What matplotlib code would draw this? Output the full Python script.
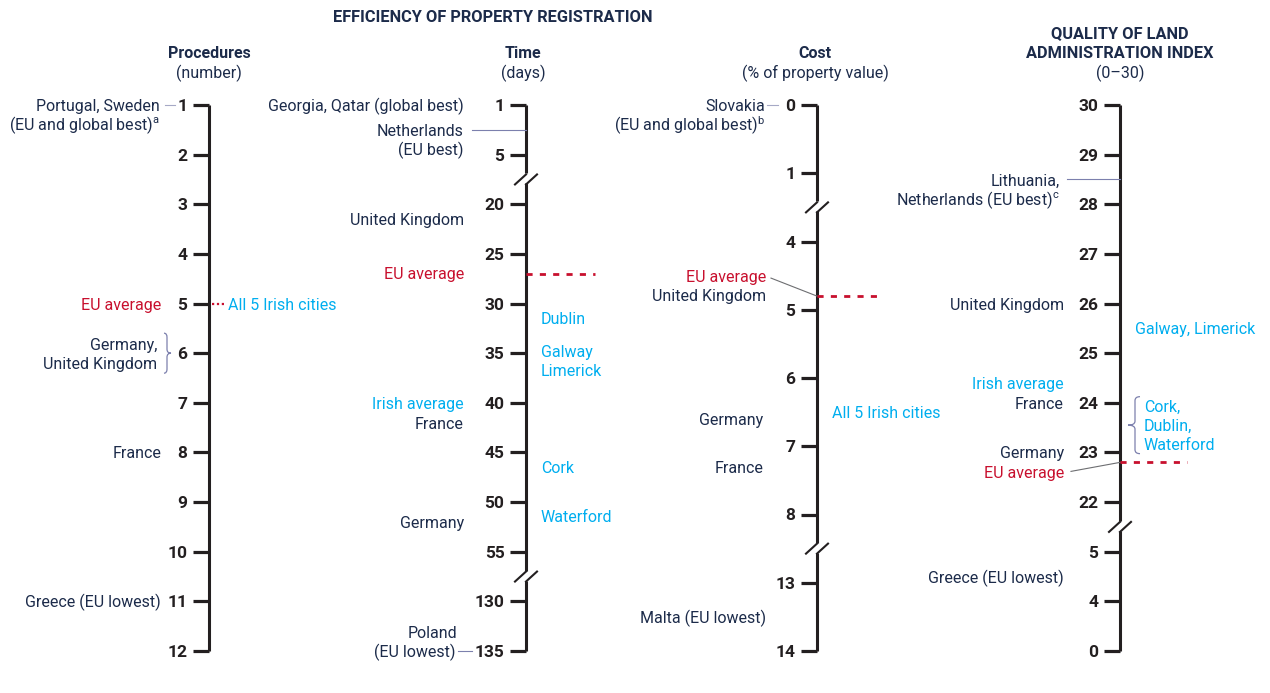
import numpy as np
import matplotlib
matplotlib.use('Agg')
import matplotlib.pyplot as plt
import matplotlib.transforms as mtransforms
from matplotlib.path import Path
from matplotlib.patches import PathPatch

plt.rcParams['font.family'] = ['Roboto', 'DejaVu Sans']
plt.rcParams['mathtext.fontset'] = 'custom'
plt.rcParams['mathtext.rm'] = 'Roboto'

NAVY = '#1c2b4a'
INK = '#231f20'
RED = '#c8102e'
BLUE = '#00aeef'
LEAD = '#7c80ad'
LEAD_LIGHT = '#a6a9c6'
GREY = '#6d6e71'

W, H = 1270, 693
TOP, BOT = 105, 651
FS = 11.5

# tick values of each scale, listed top to bottom
proc_ticks = [1, 2, 3, 4, 5, 6, 7, 8, 9, 10, 11, 12]
time_ticks = [1, 5, 20, 25, 30, 35, 40, 45, 50, 55, 130, 135]
cost_ticks = [0, 1, 4, 5, 6, 7, 8, 13, 14]
qual_ticks = [30, 29, 28, 27, 26, 25, 24, 23, 22, 5, 4, 0]

# scale breaks (the cut sits after this tick index)
time_breaks = [1, 9]
cost_breaks = [1, 6]
qual_breaks = [8]

# procedures (number)
proc_countries = ['Portugal, Sweden', 'Germany, United Kingdom', 'France', 'Greece (EU lowest)']
proc_country_vals = [1, 6, 8, 11]
proc_eu_avg = 5
proc_irish = 5

# time (days)
time_countries = ['Georgia, Qatar (global best)', 'Netherlands', 'United Kingdom',
                  'France', 'Germany', 'Poland']
time_country_vals = [1, 3, 21.5, 42, 52, 135]
time_cities = ['Dublin', 'Galway\nLimerick', 'Cork', 'Waterford']
time_city_vals = [31.5, 35.7, 46.5, 51.4]
time_eu_avg = 27
time_irish_avg = 40

# cost (% of property value)
cost_countries = ['Slovakia', 'United Kingdom', 'Germany', 'France', 'Malta (EU lowest)']
cost_country_vals = [0, 4.8, 6.6, 7.3, 13.5]
cost_eu_avg = 4.8
cost_irish = 6.5

# quality of land administration index (0-30)
qual_countries = ['Lithuania,', 'United Kingdom', 'France', 'Germany', 'Greece (EU lowest)']
qual_country_vals = [28.5, 26, 24, 23, 4.5]
qual_cities = ['Galway, Limerick', 'Cork,\nDublin,\nWaterford']
qual_city_vals = [25.5, 23.55]
qual_eu_avg = 22.8
qual_irish_avg = 24.4

fig = plt.figure(figsize=(W / 100, H / 100), dpi=100)


def make_axis(x_line, ticks, breaks):
    ax = fig.add_axes([0, (H - BOT) / H, 1, (BOT - TOP) / H])
    vals = np.array(sorted(ticks), float)
    pos = np.arange(len(vals), dtype=float)
    ax.set_yscale('function', functions=(lambda v: np.interp(v, vals, pos),
                                         lambda p: np.interp(p, pos, vals)))
    ax.set_ylim(ticks[-1], ticks[0])
    ax.set_xlim(-x_line, W - x_line)
    ax.patch.set_visible(False)
    for s in ax.spines.values():
        s.set_visible(False)
    ax.spines['left'].set_position(('data', 0))
    ax.xaxis.set_visible(False)
    ax.set_yticks(ticks)
    ax.set_yticklabels([str(t) for t in ticks])
    ax.yaxis.set_minor_locator(matplotlib.ticker.NullLocator())
    ax.tick_params(axis='y', which='major', direction='out', length=11.5, width=2.3,
                   pad=4, labelsize=12.5, colors=INK)
    for lab in ax.get_yticklabels():
        lab.set_fontweight('bold')

    n = len(ticks)
    slot_px = (BOT - TOP) / (n - 1)

    def val_at(s):
        return np.interp(s, np.arange(n), ticks)

    # broken axis line
    stops = [0.0]
    for b in breaks:
        c = b + 0.5
        stops += [c - 6 / slot_px, c + 4 / slot_px]
    stops.append(n - 1.0)
    for a, b in zip(stops[::2], stops[1::2]):
        ax.plot([0, 0], [val_at(a), val_at(b)], color=INK, lw=2.2,
                solid_capstyle='butt', clip_on=False)
    for b in breaks:
        tr = anchor(ax, 0, val_at(b + 0.5))
        ax.plot([-11, 0], [5, -5], color=INK, lw=1.5, transform=tr, clip_on=False)
        ax.plot([0, 11], [5, -5], color=INK, lw=1.5, transform=tr, clip_on=False)
    return ax


def anchor(ax, x, v):
    # pixel offsets (y downwards) around a data point
    return mtransforms.Affine2D().scale(1, -1) + mtransforms.ScaledTranslation(x, v, ax.transData)


def say(ax, x, v, s, color=NAVY, ha='right', dy=0, size=FS):
    ax.text(0, dy + 1.5, s, transform=anchor(ax, x, v), ha=ha, va='center',
            color=color, fontsize=size, linespacing=1.1)


def leader(ax, v, xs, ys, color=LEAD):
    ax.plot(xs, ys, color=color, lw=0.8, transform=anchor(ax, 0, v), clip_on=False)


def eu_line(ax, v, length):
    ax.plot([0, length], [v, v], color=RED, lw=2.0, linestyle=(0, (2.2, 2.6)),
            clip_on=False)


def brace(ax, x, v, h, tip, hook, r=4):
    verts = [(hook, -h / 2), (0, -h / 2), (0, -h / 2 + r), (0, -r), (0, 0), (tip, 0),
             (0, 0), (0, r), (0, h / 2 - r), (0, h / 2), (hook, h / 2)]
    codes = [Path.MOVETO, Path.CURVE3, Path.CURVE3, Path.LINETO, Path.CURVE3, Path.CURVE3,
             Path.CURVE3, Path.CURVE3, Path.LINETO, Path.CURVE3, Path.CURVE3]
    ax.add_patch(PathPatch(Path(verts, codes), transform=anchor(ax, x, v), fill=False,
                           ec=LEAD, lw=0.9, clip_on=False))


# ---- headings
def head(x, y, s, bold=True, size=11.5):
    fig.text(x / W, 1 - y / H, s, ha='center', va='center', color=NAVY,
             fontsize=size, fontweight='bold' if bold else 'normal')


head(493, 18, 'EFFICIENCY OF PROPERTY REGISTRATION', size=11.8)
head(209, 53, 'Procedures')
head(209, 73, '(number)', bold=False)
head(523, 53, 'Time')
head(523, 73, '(days)', bold=False)
head(815, 53, 'Cost')
head(815, 73, '(% of property value)', bold=False)
head(1120, 34, 'QUALITY OF LAND', size=11.8)
head(1120, 53, 'ADMINISTRATION INDEX', size=11.8)
head(1120, 73, '(0\u201330)', bold=False)

# ---- procedures
ax1 = make_axis(209, proc_ticks, [])
say(ax1, -49, proc_country_vals[0], proc_countries[0])
say(ax1, -49, proc_country_vals[0], r'(EU and global best)$^{\rm a}$', dy=19)
leader(ax1, proc_country_vals[0], [-44, -34], [0, 0], LEAD_LIGHT)
a, b = proc_countries[1].split(' ', 1)
say(ax1, -52, proc_country_vals[1], a, dy=-9.5)
say(ax1, -52, proc_country_vals[1], b, dy=9.5)
brace(ax1, -42, proc_country_vals[1], 40, 4, -3)
say(ax1, -48, proc_country_vals[2], proc_countries[2])
say(ax1, -48, proc_country_vals[3], proc_countries[3])
say(ax1, -48, proc_eu_avg, 'EU average', color=RED)
ax1.plot([3, 16], [proc_irish, proc_irish], color=RED, lw=1.6, linestyle=(0, (1, 1.2)),
         clip_on=False)
say(ax1, 19, proc_irish, 'All 5 Irish cities', color=BLUE, ha='left')

# ---- time
ax2 = make_axis(526, time_ticks, time_breaks)
say(ax2, -62, time_country_vals[0], time_countries[0])
say(ax2, -62, time_country_vals[1], time_countries[1])
say(ax2, -62, time_country_vals[1], '(EU best)', dy=19)
leader(ax2, time_country_vals[1], [-54, 0], [0, 0])
say(ax2, -62, time_country_vals[2], time_countries[2])
say(ax2, -62, time_country_vals[3], time_countries[3])
say(ax2, -62, time_country_vals[4], time_countries[4])
say(ax2, -69, time_country_vals[5], time_countries[5], dy=-19)
say(ax2, -70, time_country_vals[5], '(EU lowest)')
leader(ax2, time_country_vals[5], [-68, -54], [0, 0])
say(ax2, -62, time_eu_avg, 'EU average', color=RED, dy=-1)
eu_line(ax2, time_eu_avg, 69)
say(ax2, -62, time_irish_avg, 'Irish average', color=BLUE)
for name, v in zip(time_cities, time_city_vals):
    lines = name.split('\n')
    for i, ln in enumerate(lines):
        say(ax2, 15, v, ln, color=BLUE, ha='left', dy=(i - (len(lines) - 1) / 2) * 19)

# ---- cost
ax3 = make_axis(817, cost_ticks, cost_breaks)
say(ax3, -52, cost_country_vals[0], cost_countries[0])
say(ax3, -52, cost_country_vals[0], r'(EU and global best)$^{\rm b}$', dy=19)
leader(ax3, cost_country_vals[0], [-50, -39], [0, 0], LEAD_LIGHT)
say(ax3, -51, cost_country_vals[1], cost_countries[1], dy=-1)
say(ax3, -51, cost_eu_avg, 'EU average', color=RED, dy=-20)
leader(ax3, cost_eu_avg, [-46, 0], [-18, 0], GREY)
eu_line(ax3, cost_eu_avg, 65)
say(ax3, -54, cost_country_vals[2], cost_countries[2])
say(ax3, -53, cost_country_vals[3], cost_countries[3])
say(ax3, -51, cost_country_vals[4], cost_countries[4])
say(ax3, 15, cost_irish, 'All 5 Irish cities', color=BLUE, ha='left')

# ---- quality
ax4 = make_axis(1120, qual_ticks, qual_breaks)
say(ax4, -60, qual_country_vals[0], qual_countries[0])
say(ax4, -60, qual_country_vals[0], r'Netherlands (EU best)$^{\rm c}$', dy=19)
leader(ax4, qual_country_vals[0], [-53, 0], [0, 0])
for name, v in zip(qual_countries[1:], qual_country_vals[1:]):
    say(ax4, -56, v, name)
say(ax4, -56, qual_irish_avg, 'Irish average', color=BLUE)
say(ax4, -56, qual_eu_avg, 'EU average', color=RED, dy=10)
leader(ax4, qual_eu_avg, [-49, 0], [9, 0], GREY)
eu_line(ax4, qual_eu_avg, 67)
say(ax4, 15, qual_city_vals[0], qual_cities[0], color=BLUE, ha='left')
lines = qual_cities[1].split('\n')
for i, ln in enumerate(lines):
    say(ax4, 24, qual_city_vals[1], ln, color=BLUE, ha='left', dy=(i - 1) * 19)
brace(ax4, 15, qual_city_vals[1], 57, -7, 5)

fig.savefig('out.png', dpi=100)
